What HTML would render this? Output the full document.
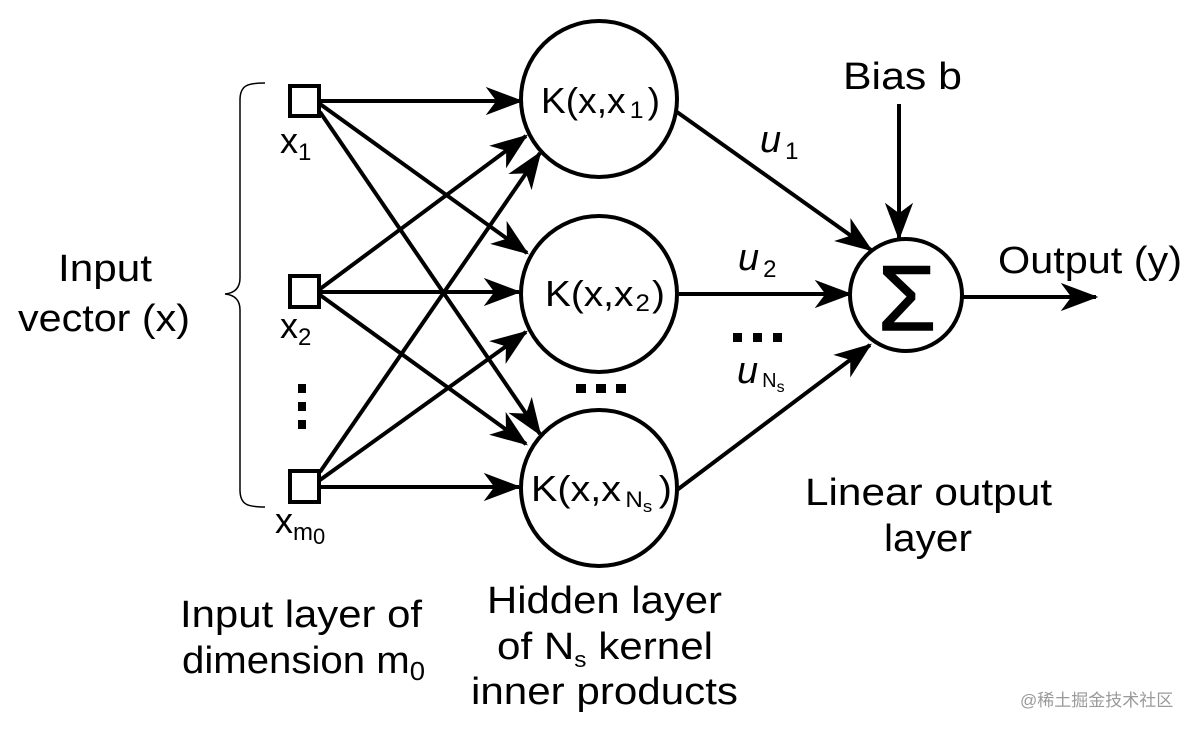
<!DOCTYPE html>
<html><head><meta charset="utf-8"><style>
html,body{margin:0;padding:0;background:#fff;}
svg{display:block;}
text{font-family:"Liberation Sans","Noto Sans CJK SC",sans-serif;fill:#000;}
</style></head><body>
<svg width="1200" height="732" viewBox="0 0 1200 732" xmlns="http://www.w3.org/2000/svg">
<defs>
<marker id="a" markerUnits="userSpaceOnUse" markerWidth="40" markerHeight="40" refX="0" refY="0" viewBox="-32 -14 34 28" orient="auto" overflow="visible">
<path d="M2,0 L-30,-12 L-21,0 L-30,12 Z" fill="#000"/>
</marker>
</defs>
<g stroke="#000" stroke-width="4" fill="none" marker-end="url(#a)">
<line x1="320" y1="101" x2="521" y2="101"/>
<line x1="320" y1="104" x2="527" y2="253"/>
<line x1="320" y1="112" x2="540" y2="434"/>
<line x1="320" y1="289" x2="526" y2="136"/>
<line x1="320" y1="292" x2="519" y2="292"/>
<line x1="320" y1="295" x2="526" y2="444"/>
<line x1="320" y1="472" x2="540" y2="153"/>
<line x1="320" y1="480" x2="526" y2="332"/>
<line x1="320" y1="487" x2="519" y2="487"/>
<line x1="677" y1="112" x2="871" y2="250"/>
<line x1="679" y1="294" x2="850" y2="294"/>
<line x1="677" y1="490" x2="870" y2="345"/>
<line x1="899" y1="104" x2="899" y2="238"/>
<line x1="962" y1="297" x2="1096" y2="297"/>
</g>
<g stroke="#000" stroke-width="4" fill="#fff">
<rect x="290" y="86" width="29" height="30"/>
<rect x="290" y="276" width="29" height="31"/>
<rect x="290" y="471" width="29" height="31"/>
<circle cx="599" cy="99" r="78"/>
<circle cx="599" cy="294" r="78"/>
<circle cx="599" cy="488" r="78"/>
<circle cx="906" cy="295" r="56"/>
</g>
<path d="M265,83 C248,83 240,85 240,100 L240,278 C240,288 235,293 225,294 C235,295 240,300 240,310 L240,490 C240,505 248,507 265,507" stroke="#000" stroke-width="1.5" fill="none"/>
<g fill="#000">
<rect x="298" y="384" width="8" height="9"/><rect x="298" y="402" width="8" height="9"/><rect x="298" y="420" width="8" height="9"/>
<rect x="576" y="384" width="10" height="9"/><rect x="596" y="384" width="10" height="9"/><rect x="616" y="384" width="10" height="9"/>
<rect x="733" y="333" width="9" height="9"/><rect x="753" y="333" width="9" height="9"/><rect x="773" y="333" width="9" height="9"/>
</g>
<text x="907" y="330" font-size="92" text-anchor="middle" textLength="58" lengthAdjust="spacingAndGlyphs" style="stroke:#000;stroke-width:1.5">Σ</text>
<g font-size="36">
<text x="541" y="113" textLength="119" lengthAdjust="spacingAndGlyphs">K(x,x<tspan font-size="24" dy="5" dx="4">1</tspan><tspan dy="-5" dx="4">)</tspan></text>
<text x="545" y="306" textLength="120" lengthAdjust="spacingAndGlyphs">K(x,x<tspan font-size="24" dy="5" dx="2">2</tspan><tspan dy="-5" dx="2">)</tspan></text>
<text x="531" y="501" textLength="141" lengthAdjust="spacingAndGlyphs">K(x,x<tspan font-size="22" dy="6" dx="4">N</tspan><tspan font-size="17" dy="5">s</tspan><tspan dy="-11" dx="6">)</tspan></text>
<text x="280" y="153">x<tspan font-size="24" dy="7">1</tspan></text>
<text x="280" y="338">x<tspan font-size="24" dy="7">2</tspan></text>
<text x="275" y="533">x<tspan font-size="24" dy="7">m</tspan><tspan font-size="22" dy="4">0</tspan></text>
</g>
<g font-size="38">
<text x="760" y="152" font-style="italic">u<tspan font-size="24" font-style="normal" dy="7" dx="4">1</tspan></text>
<text x="738" y="270" font-style="italic">u<tspan font-size="24" font-style="normal" dy="7" dx="4">2</tspan></text>
<text x="737" y="383" font-style="italic">u<tspan font-size="20" font-style="normal" dy="4" dx="4">N</tspan><tspan font-size="16" font-style="normal" dy="5">s</tspan></text>
<text x="843" y="89" textLength="119" lengthAdjust="spacingAndGlyphs">Bias b</text>
<text x="998" y="273" textLength="184" lengthAdjust="spacingAndGlyphs">Output (y)</text>
<text x="58" y="281" textLength="94" lengthAdjust="spacingAndGlyphs">Input</text>
<text x="18" y="331" textLength="172" lengthAdjust="spacingAndGlyphs">vector (x)</text>
<text x="805" y="505" textLength="247" lengthAdjust="spacingAndGlyphs">Linear output</text>
<text x="884" y="551" textLength="88" lengthAdjust="spacingAndGlyphs">layer</text>
<text x="180" y="627" textLength="242" lengthAdjust="spacingAndGlyphs">Input layer of</text>
<text x="182" y="673" textLength="243" lengthAdjust="spacingAndGlyphs">dimension m<tspan font-size="26" dy="7">0</tspan></text>
<text x="487" y="613" textLength="235" lengthAdjust="spacingAndGlyphs">Hidden layer</text>
<text x="497" y="659" textLength="216" lengthAdjust="spacingAndGlyphs">of N<tspan font-size="22" dy="8">s</tspan><tspan dy="-8"> kernel</tspan></text>
<text x="471" y="704" textLength="267" lengthAdjust="spacingAndGlyphs">inner products</text>
</g>
<text x="1020" y="706" font-size="17" style="fill:#9a9a9a">@稀土掘金技术社区</text>
</svg>
</body></html>
